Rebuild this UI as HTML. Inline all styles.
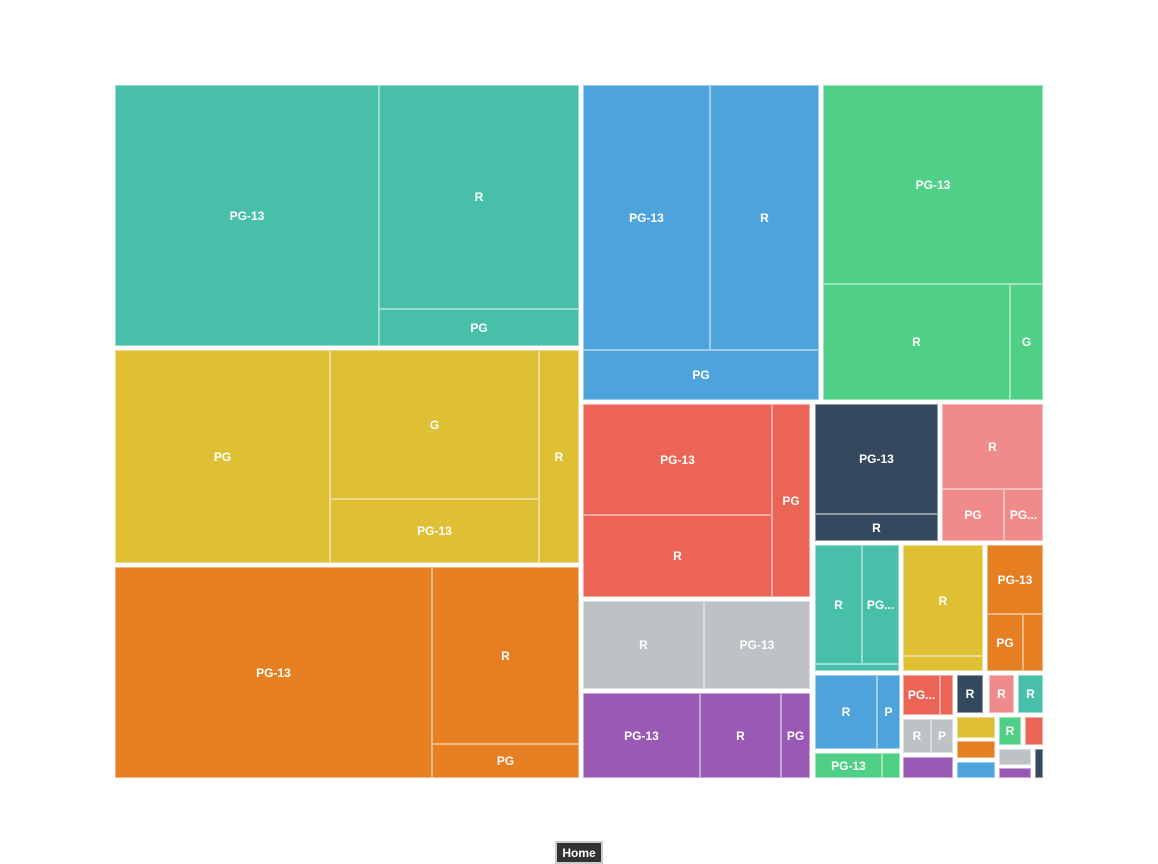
<!DOCTYPE html>
<html><head><meta charset="utf-8">
<style>
html,body{margin:0;padding:0;background:#fff;width:1158px;height:864px;overflow:hidden;font-family:"Liberation Sans",sans-serif}
#chart{position:absolute;left:0;top:0;width:1158px;height:864px}
.cell{position:absolute;box-sizing:border-box;border:1px solid rgba(255,255,255,0.45);color:#fff;font-weight:bold;font-size:12px;display:flex;align-items:center;justify-content:center;overflow:hidden;white-space:nowrap}
#home{position:absolute;left:555px;top:841px;width:48px;height:23px;box-sizing:border-box;background:#333;border:2px solid #ccc;color:#fff;font-weight:bold;font-size:12px;display:flex;align-items:center;justify-content:center}
</style></head><body>
<div id="chart"></div>
<div id="home">Home</div>
<script>
const colors={teal:"#48c0a9",yellow:"#dfbf34",orange:"#e67f22",blue:"#4fa3dc",green:"#50cf86",red:"#ec6456",gray:"#bec2c5",purple:"#9b59b6",navy:"#34495e",pink:"#f18b8b"};
// treemap cells: [group color, label, x0, y0, x1, y1]
const cells=[
["teal","PG-13",115,85,379,346],["teal","R",379,85,579,309],["teal","PG",379,309,579,346],
["yellow","PG",115,350,330,563],["yellow","G",330,350,539,499],["yellow","PG-13",330,499,539,563],["yellow","R",539,350,579,563],
["orange","PG-13",115,567,432,778],["orange","R",432,567,579,744],["orange","PG",432,744,579,778],
["blue","PG-13",583,85,710,350],["blue","R",710,85,819,350],["blue","PG",583,350,819,400],
["green","PG-13",823,85,1043,284],["green","R",823,284,1010,400],["green","G",1010,284,1043,400],
["red","PG-13",583,404,772,515],["red","R",583,515,772,597],["red","PG",772,404,810,597],
["gray","R",583,601,704,689],["gray","PG-13",704,601,810,689],
["purple","PG-13",583,693,700,778],["purple","R",700,693,781,778],["purple","PG",781,693,810,778],
["navy","PG-13",815,404,938,514],["navy","R",815,514,938,541],
["pink","R",942,404,1043,489],["pink","PG",942,489,1004,541],["pink","PG...",1004,489,1043,541],
["teal","R",815,545,862,664],["teal","PG...",862,545,899,664],["teal","",815,664,899,671],
["yellow","R",903,545,983,656],["yellow","",903,656,983,671],
["orange","PG-13",987,545,1043,614],["orange","PG",987,614,1023,671],["orange","",1023,614,1043,671],
["blue","R",815,675,877,749],["blue","P",877,675,900,749],
["green","PG-13",815,753,882,778],["green","",882,753,900,778],
["red","PG...",903,675,940,715],["red","",940,675,953,715],
["gray","R",903,719,931,753],["gray","P",931,719,953,753],
["purple","",903,757,953,778],
["navy","R",957,675,983,713],["pink","R",989,675,1014,713],["teal","R",1018,675,1043,713],
["yellow","",957,717,995,738],["orange","",957,741,995,758],["blue","",957,762,995,778],
["green","R",999,717,1021,745],["red","",1025,717,1043,745],
["gray","",999,749,1031,765],["purple","",999,768,1031,778],["navy","",1035,749,1043,778]
];
const chart=document.getElementById('chart');
cells.forEach(c=>{
  const d=document.createElement('div');
  d.className='cell';
  
  
  d.style.left=c[2]+'px';d.style.top=c[3]+'px';
  d.style.width=(c[4]-c[2])+'px';d.style.height=(c[5]-c[3])+'px';
  d.style.background=colors[c[0]];
  d.textContent=c[1];
  chart.appendChild(d);
});
</script>
</body></html>
